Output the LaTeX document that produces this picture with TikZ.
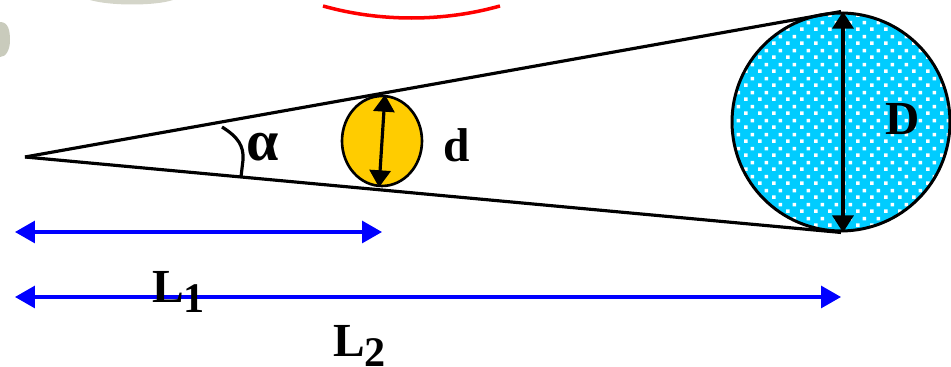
\documentclass[tikz,border=0pt]{standalone}
\usepackage{fontspec}
\setmainfont{Liberation Serif}
\usetikzlibrary{arrows.meta, shapes.geometric, patterns.meta}

\definecolor{goldball}{HTML}{FFCC00}
\definecolor{skyball}{HTML}{00CCFF}
\definecolor{blobgray}{HTML}{C9CBBC}

\tikzdeclarepattern{
	name=balldots,
	type=uncolored,
	bottom left={(0pt,0pt)},
	top right={(8pt,8pt)},
	tile size={(8pt,8pt)},
	code={
		\fill (0pt,0pt) rectangle (2.2pt,2.2pt);
		\fill (4pt,4pt) rectangle (6.2pt,6.2pt);
	}
}

\tikzset{
	ray/.style={line width=1.8pt},
	smallball/.style={ellipse, draw, line width=1.5pt, fill=goldball, minimum width=1.6cm, minimum height=1.8cm, inner sep=0pt},
	bigball/.style={circle, draw, line width=1.7pt, preaction={fill=skyball}, pattern=balldots, pattern color=white, minimum size=4.36cm, inner sep=0pt},
	diam/.style={line width=1.8pt, {Triangle[length=0.34cm, width=0.42cm]}-{Triangle[length=0.34cm, width=0.42cm]}},
	dist/.style={blue, line width=1.8pt, {Triangle[length=0.4cm, width=0.44cm]}-{Triangle[length=0.4cm, width=0.44cm]}},
	lbl/.style={font=\bfseries\fontsize{27}{27}\selectfont, inner sep=0pt, anchor=base west}
}

\begin{document}
\begin{tikzpicture}[x=0.02cm, y=-0.02cm]
	\useasboundingbox (0,0) rectangle (951,367);
	% Background blobs and red arc:
	\fill[blobgray!80] (90,0) .. controls (110,6) and (155,6) .. (173,0) -- cycle;
	\fill[blobgray] (0,22) .. controls (8,22) and (10,30) .. (10,40) .. controls (10,50) and (6,57) .. (0,57) -- cycle;
	\coordinate (arcL) at (323,6);
	\coordinate (arcR) at (500,6);
	\draw[red, line width=2pt] (arcL) .. controls (380,22) and (443,22) .. (arcR);
	% Balls:
	\node[smallball] (small) at (382,141){};
	\node[bigball] (big) at (841,122){};
	% Rays and angle:
	\coordinate (apex) at (25,157);
	\draw[ray] (apex) -- (big.north);
	\draw[ray] (apex) -- (big.south);
	\coordinate (angA) at (222,127);
	\coordinate (angB) at (241,177);
	\draw[ray] (angA) .. controls (238,137) and (244,146) .. (243,160) -- (angB);
	% Diameters:
	\draw[diam] ([xshift=0.06cm]small.north) -- ([xshift=-0.06cm]small.south);
	\draw[diam] ([xshift=0.04cm]big.north) -- ([xshift=0.04cm]big.south);
	% Distances:
	\coordinate (lone) at (15,232);
	\coordinate (ltwo) at (15,297);
	\draw[dist] (lone) -- (lone -| small);
	\draw[dist] (ltwo) -- (ltwo -| big);
	% Labels:
	\node[lbl, font=\bfseries\fontsize{33}{33}\selectfont] (alpha) at (246,161){α};
	\node[lbl] (dsmall) at (443,162){d};
	\node[lbl] (dbig) at (885,135){D};
	\node[lbl] (lonelbl) at (152,303){L\raisebox{-0.2cm}{\fontsize{24}{24}\selectfont 1}};
	\node[lbl] (ltwolbl) at (333,357){L\raisebox{-0.2cm}{\fontsize{24}{24}\selectfont 2}};
\end{tikzpicture}
\end{document}
